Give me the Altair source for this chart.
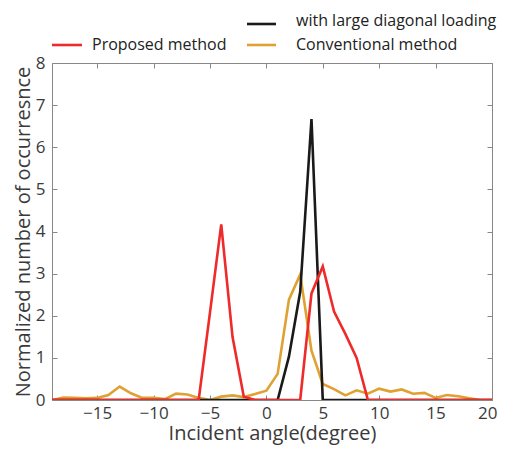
import altair as alt
import pandas as pd

angles = list(range(-19, 21))
proposed = [0]*13 + [0, 2.07, 4.17, 1.5, 0.08, 0, 0, 0, 0, 0, 2.53, 3.17, 2.1, 1.57, 1.0] + [0]*12
conventional = [0, 0.06, 0.05, 0.04, 0.05, 0.12, 0.32, 0.16, 0.05, 0.05, 0.02, 0.15, 0.13, 0.05,
                0.0, 0.08, 0.11, 0.07, 0.14, 0.22, 0.62, 2.38, 2.98, 1.17, 0.38, 0.26, 0.11, 0.23,
                0.15, 0.27, 0.2, 0.25, 0.15, 0.17, 0.05, 0.12, 0.09, 0.04, 0.0, 0.0]
loading = [0]*21 + [1.03, 2.57, 6.67] + [0]*16

series_names = ["Conventional method", "with large diagonal loading", "Proposed method"]
series_colors = ["#E0A133", "#1A1A1A", "#EE2A2A"]

rows = []
for name, vals in zip(series_names, [conventional, loading, proposed]):
    for a, v in zip(angles, vals):
        rows.append({"angle": a, "value": v, "series": name, "order": series_names.index(name)})
df = pd.DataFrame(rows)

W, H = 440, 337
FONT = "Open Sans"
AXC = "#888888"
LBC = "#3a3a3a"

xscale = alt.Scale(domain=[-19, 20], nice=False, zero=False)
yscale = alt.Scale(domain=[0, 8], nice=False)
cscale = alt.Scale(domain=series_names, range=series_colors)

lines = alt.Chart(df).mark_line(strokeWidth=2.6, clip=True).encode(
    x=alt.X("angle:Q", scale=xscale,
            axis=alt.Axis(values=list(range(-15, 21, 5)), title="Incident angle(degree)",
                          tickSize={"expr": "-5"}, tickColor=AXC, domainColor=AXC, grid=False,
                          labelFont=FONT, labelFontSize=17, labelColor=LBC, labelPadding=10,
                          labelFlush=True, labelFlushOffset=5,
                          titleFont=FONT, titleFontSize=20, titleFontWeight="normal",
                          titleColor=LBC, titlePadding=2)),
    y=alt.Y("value:Q", scale=yscale,
            axis=alt.Axis(values=list(range(0, 9)), title="Normalized number of occurresnce",
                          tickSize={"expr": "-5"}, tickColor=AXC, domainColor=AXC, grid=False,
                          labelFont=FONT, labelFontSize=17, labelColor=LBC, labelPadding=12,
                          titleFont=FONT, titleFontSize=20, titleFontWeight="normal",
                          titleColor=LBC, titlePadding=2)),
    color=alt.Color("series:N", scale=cscale, legend=None),
    detail="series:N",
    order="order:Q",
)

frame = alt.Chart(df).mark_line(opacity=0).encode(
    x=alt.X("angle:Q", scale=xscale,
            axis=alt.Axis(orient="top", values=list(range(-15, 21, 5)), labels=False, title=None,
                          tickSize={"expr": "-5"}, tickColor=AXC, domainColor=AXC, grid=False)),
    y=alt.Y("value:Q", scale=yscale,
            axis=alt.Axis(orient="right", values=list(range(0, 9)), labels=False, title=None,
                          tickSize={"expr": "-5"}, tickColor=AXC, domainColor=AXC, grid=False)),
)

legend_layers = []
leg_specs = [
    ("with large diagonal loading", "#1A1A1A", 195, 224, -39, 244, -42),
    ("Proposed method", "#EE2A2A", 0, 30, -18, 40, -18),
    ("Conventional method", "#E0A133", 195, 224, -18, 244, -18),
]
for label, col, x1, x2, yl, xt, yt in leg_specs:
    legend_layers.append(alt.Chart(pd.DataFrame({"t": [label]})).mark_rule(
        color=col, strokeWidth=2.6).encode(x=alt.value(x1), x2=alt.value(x2), y=alt.value(yl)))
    legend_layers.append(alt.Chart(pd.DataFrame({"t": [label]})).mark_text(
        align="left", baseline="middle", font=FONT, fontSize=16, color="#222222").encode(
        x=alt.value(xt), y=alt.value(yt), text="t:N"))

chart = alt.layer(lines, frame, *legend_layers).resolve_axis(
    x="independent", y="independent").properties(
    width=W, height=H,
    autosize=alt.AutoSizeParams(type="none"),
    padding={"left": 44, "top": 55, "right": 5, "bottom": 46},
).configure_view(stroke=None).configure(background="white")

chart.save("out.html", embed_options={"renderer": "svg", "actions": False})
